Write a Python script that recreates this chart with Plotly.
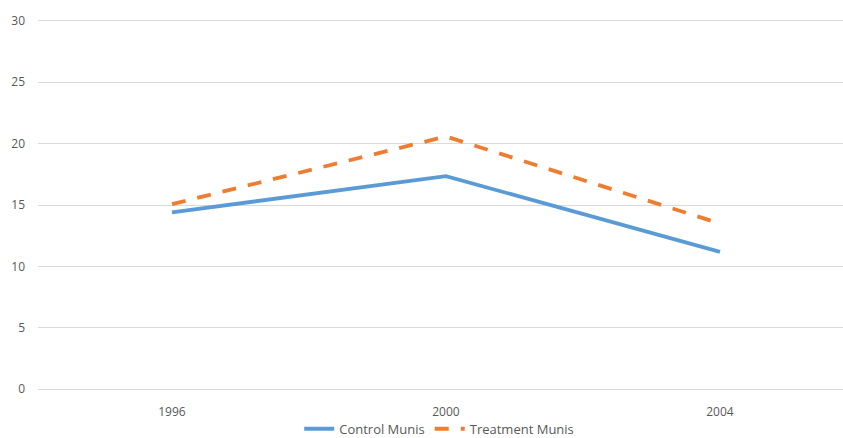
import plotly.graph_objects as go

years = ["1996", "2000", "2004"]
control = [14.4, 17.35, 11.18]
treatment = [15.07, 20.58, 13.49]
y_ticks = [0, 5, 10, 15, 20, 25, 30]

xpos = list(range(len(years)))

fig = go.Figure()
fig.add_trace(go.Scatter(x=xpos, y=control, mode="lines", name="Control Munis",
                         line=dict(color="#5B9BD5", width=3.8)))
fig.add_trace(go.Scatter(x=xpos, y=treatment, mode="lines", name="Treatment Munis",
                         line=dict(color="#ED7D31", width=3.8, dash="14px,12px")))

font = dict(family="Open Sans, Noto Sans, sans-serif", size=12, color="#595959")
fig.update_layout(
    width=843, height=438,
    margin=dict(l=38, r=0, t=19, b=47, autoexpand=False),
    paper_bgcolor="white", plot_bgcolor="white",
    font=font,
    showlegend=True,
    legend=dict(orientation="h", xref="container", yref="container",
                x=0.521, xanchor="center", y=0.021, yanchor="middle",
                bgcolor="rgba(0,0,0,0)",
                font=dict(family="Open Sans, Noto Sans, sans-serif", size=13, color="#595959"),
                itemwidth=30, tracegroupgap=0),
    xaxis=dict(range=[-0.489, 2.449], tickmode="array", tickvals=xpos, ticktext=years,
               showgrid=False, zeroline=False, showline=False, ticks="",
               ticklabelstandoff=12, automargin=False, fixedrange=True),
    yaxis=dict(range=[-0.15, 30.15], tickmode="array", tickvals=y_ticks,
               showgrid=True, gridcolor="#D9D9D9", gridwidth=1,
               zeroline=True, zerolinecolor="#D9D9D9", zerolinewidth=1,
               showline=False, ticks="", ticklabelstandoff=12,
               automargin=False, fixedrange=True),
)

fig.write_html("out.html", config={"displayModeBar": False},
               post_script="document.body.style.margin='0';")
